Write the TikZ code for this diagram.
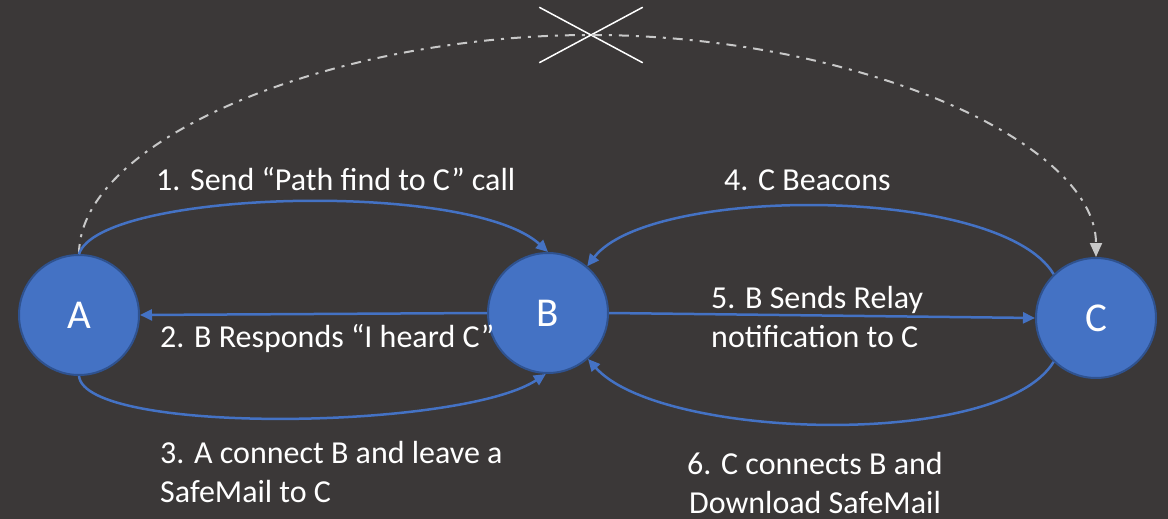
\documentclass[tikz,border=0pt]{standalone}
\usepackage{fontspec}
\setmainfont{Carlito}
\usetikzlibrary{arrows.meta,shapes.misc}
\definecolor{bg}{HTML}{3B3838}
\definecolor{nodeblue}{HTML}{4472C4}
\definecolor{nodeborder}{HTML}{2F528F}
\definecolor{dashgray}{HTML}{C8C8C8}
\begin{document}
\begin{tikzpicture}[x=1pt,y=-1pt,
  peer/.style={circle, fill=nodeblue, draw=nodeborder, line width=2pt, minimum size=120pt, inner sep=0pt, text=white, font=\fontsize{41}{48}\selectfont},
  link/.style={draw=nodeblue, line width=2.5pt, -{Triangle[length=12pt,width=11pt]}},
  lbl/.style={text=white, font=\fontsize{32}{39}\selectfont, inner sep=0pt},
  blocked/.style={draw=dashgray, line width=2pt, dash pattern=on 10pt off 7pt on 3pt off 7pt, -{Triangle[length=14pt,width=12pt,fill=dashgray]}},
  crossmark/.style={cross out, draw=white, line width=1.5pt, minimum width=102pt, minimum height=54pt, inner sep=0pt}]
\fill[bg] (0,0) rectangle (1168,519);
\useasboundingbox (0,0) rectangle (1168,519);
\node[peer] (A) at (79,315) {A};
\node[peer] (B) at (548,313) {B};
\node[peer] (C) at (1096,318) {C};
\node[crossmark] (X) at (591,35) {};
\draw[blocked] (A.north) .. controls (79,140) and (330,35) .. (X.center) .. controls (850,35) and (1096,140) .. (C.north);
\draw[link] (A.north) .. controls (100,190) and (470,180) .. (B.north);
\draw[link] (C.134) .. controls (1000,185) and (650,185) .. (B.50);
\draw[link] (B.west) -- (A.east);
\draw[link] (B.east) -- (C.west);
\draw[link] (A.south) .. controls (85,435) and (460,430) .. (B.268);
\draw[link] (C.226) .. controls (1000,450) and (660,440) .. (B.311);
\node[lbl, anchor=base west] (l1) at (156,190) {1. Send “Path find to C” call};
\node[lbl, anchor=base west] (l4) at (724,190) {4. C Beacons};
\node[lbl, anchor=base west] (l2) at (160,347) {2. B Responds “I heard C”};
\node[lbl, anchor=base west, align=left] (l3) at (160,502) {3. A connect B and leave a\\SafeMail to C};
\node[lbl, anchor=base west, align=left] (l5) at (711,347) {5. B Sends Relay\\notification to C};
\node[lbl, anchor=base, align=center] (l6) at (815,513) {6. C connects B and\\Download SafeMail};
\end{tikzpicture}
\end{document}
